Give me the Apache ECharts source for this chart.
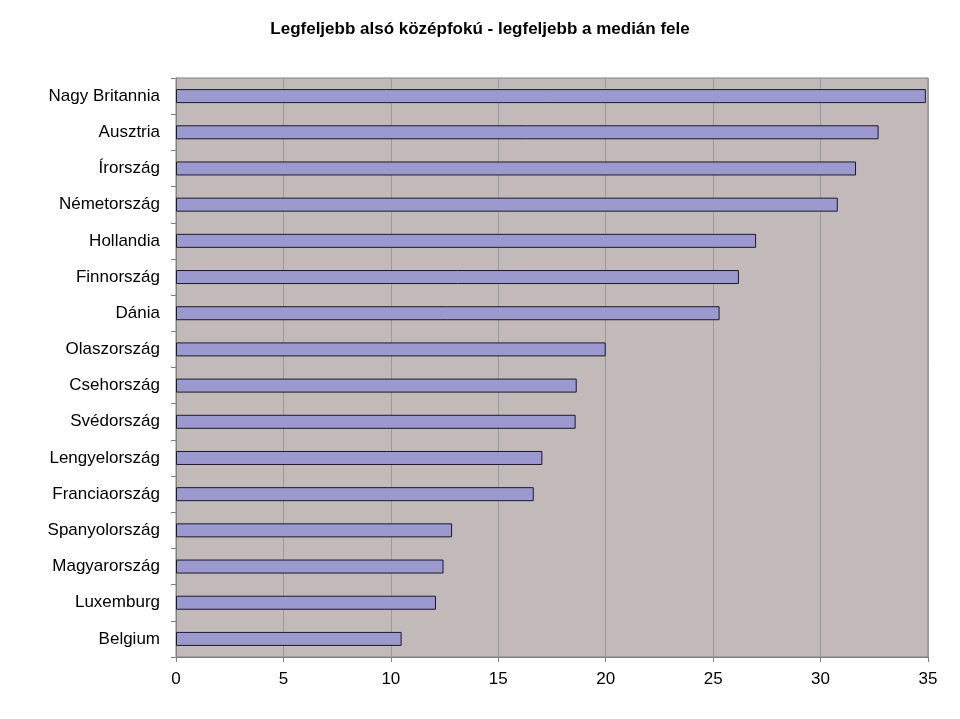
<!DOCTYPE html>
<html><head><meta charset="utf-8">
<script src="https://cdn.jsdelivr.net/npm/echarts@6/dist/echarts.min.js"></script>
<style>html,body{margin:0;background:#fff}#c{width:960px;height:719px}</style>
</head><body><div id="c"></div>
<script>
// országok felülről lefelé
const countries = ['Nagy Britannia','Ausztria','Írország','Németország','Hollandia','Finnország','Dánia','Olaszország','Csehország','Svédország','Lengyelország','Franciaország','Spanyolország','Magyarország','Luxemburg','Belgium'];
const values = [34.9,32.7,31.65,30.8,27.0,26.2,25.3,20.0,18.65,18.6,17.05,16.65,12.85,12.45,12.1,10.5];
const xTicks = [0,5,10,15,20,25,30,35];

const chart = echarts.init(document.getElementById('c'));
chart.setOption({
  animation: false,
  title: { text: 'Legfeljebb alsó középfokú - legfeljebb a medián fele', left: 'center', top: 16,
    textStyle: { fontFamily: 'Liberation Sans', fontSize: 17, fontWeight: 'bold', color: '#000' } },
  grid: { left: 176, right: 32, top: 78, bottom: 62, backgroundColor: '#C2B9B9', show: true, borderColor: '#808080', borderWidth: 1 },
  xAxis: { type: 'value', min: 0, max: 35, interval: 5,
    axisLine: { show: true, lineStyle: { color: '#808080' } },
    axisTick: { show: true, length: 5, lineStyle: { color: '#808080' } },
    splitLine: { lineStyle: { color: '#9a9a9a' } },
    axisLabel: { color: '#000', fontSize: 17, fontFamily: 'Liberation Sans', margin: 14,
      formatter: v => xTicks.includes(v) ? String(v) : '' } },
  yAxis: { type: 'category', inverse: true, data: countries,
    axisLine: { show: true, lineStyle: { color: '#808080' } },
    axisTick: { show: true, length: 5, lineStyle: { color: '#808080' } },
    axisLabel: { color: '#000', fontSize: 17, fontFamily: 'Liberation Sans', margin: 16 } },
  series: [{ type: 'bar', data: values, barWidth: 14,
    itemStyle: { color: '#9C99CE', borderColor: '#1a1a2a', borderWidth: 1 } }]
});
</script></body></html>
